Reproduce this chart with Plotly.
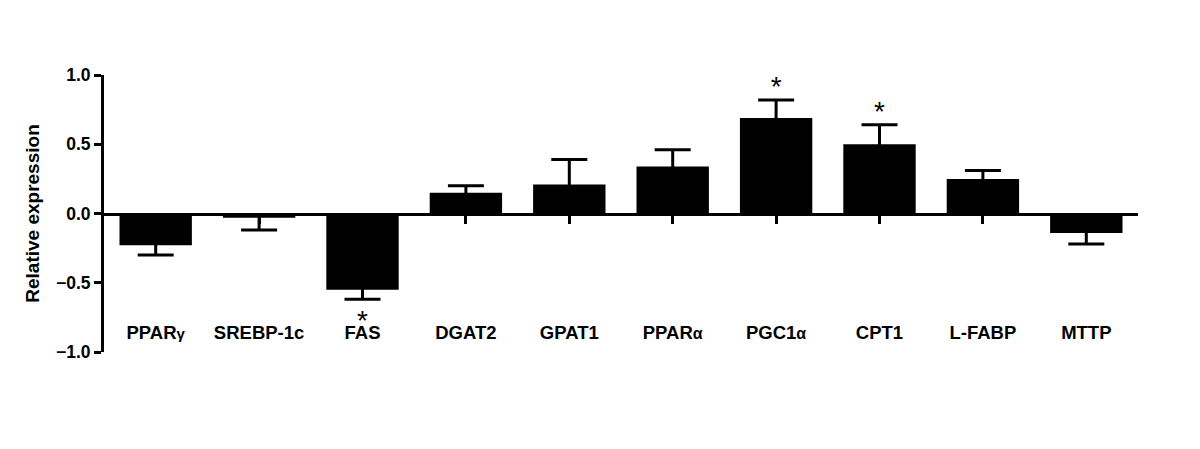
import plotly.graph_objects as go

genes = ["PPAR<span style='font-size:15px'>γ</span>", "SREBP-1c", "FAS", "DGAT2", "GPAT1",
         "PPAR<span style='font-size:16px'>α</span>", "PGC1<span style='font-size:16px'>α</span>",
         "CPT1", "L-FABP", "MTTP"]
expression = [-0.23, -0.03, -0.55, 0.15, 0.21, 0.34, 0.69, 0.50, 0.25, -0.14]
sem = [0.07, 0.09, 0.07, 0.05, 0.18, 0.12, 0.13, 0.14, 0.06, 0.08]
significant = [False, False, True, False, False, False, True, True, False, False]

FONT = "Liberation Sans, Arial, sans-serif"

# error bars only point away from zero; the inner side is kept short so
# its cap stays hidden inside the black bar
inner = [min(0.02, abs(v) / 2) for v in expression]
err_up = [e if v >= 0 else i for v, e, i in zip(expression, sem, inner)]
err_down = [e if v < 0 else i for v, e, i in zip(expression, sem, inner)]

# asterisk sits just beyond the end of the error bar
star_x = [g for g, s in zip(genes, significant) if s]
star_y = []
for v, e, s in zip(expression, sem, significant):
    if s:
        star_y.append(v + e + 0.08 if v >= 0 else v - e - 0.17)

fig = go.Figure()
fig.add_trace(go.Bar(
    x=genes, y=expression,
    marker=dict(color="black", line=dict(width=0)),
    width=0.7,
    error_y=dict(type="data", symmetric=False, array=err_up, arrayminus=err_down,
                 color="black", thickness=3, width=18),
    xaxis="x",
))
fig.add_trace(go.Scatter(
    x=star_x, y=star_y, mode="text", text=["*"] * len(star_x),
    textfont=dict(family=FONT, size=28, color="black"),
    xaxis="x2", hoverinfo="skip",
))

# page body adds an 8px offset, so margins are shifted to compensate
fig.update_layout(
    width=1200, height=449,
    margin=dict(l=96, r=70, t=67, b=105),
    paper_bgcolor="white", plot_bgcolor="white",
    showlegend=False,
    xaxis=dict(
        type="category", range=[-0.5, 9.5],
        anchor="free", position=0.117,
        showline=False, ticks="", showgrid=False, zeroline=False,
        tickfont=dict(family=FONT, size=18.5, color="black", weight="bold"),
    ),
    xaxis2=dict(
        type="category", matches="x", overlaying="x",
        anchor="free", position=0.5,
        showline=True, linewidth=3, linecolor="black",
        ticks="outside", ticklen=8, tickwidth=3, tickcolor="black",
        showticklabels=False, showgrid=False, zeroline=False,
    ),
    yaxis=dict(
        range=[-1, 1], tickvals=[-1, -0.5, 0, 0.5, 1], tickformat=".1f",
        showline=True, linewidth=3, linecolor="black",
        ticks="outside", ticklen=7, tickwidth=3, tickcolor="black",
        showgrid=False, zeroline=False,
        tickfont=dict(family=FONT, size=17.5, color="black", weight="bold"),
        title=dict(text="Relative expression", standoff=12,
                   font=dict(family=FONT, size=19, color="black", weight="bold")),
    ),
)

fig.write_html("out.html")
